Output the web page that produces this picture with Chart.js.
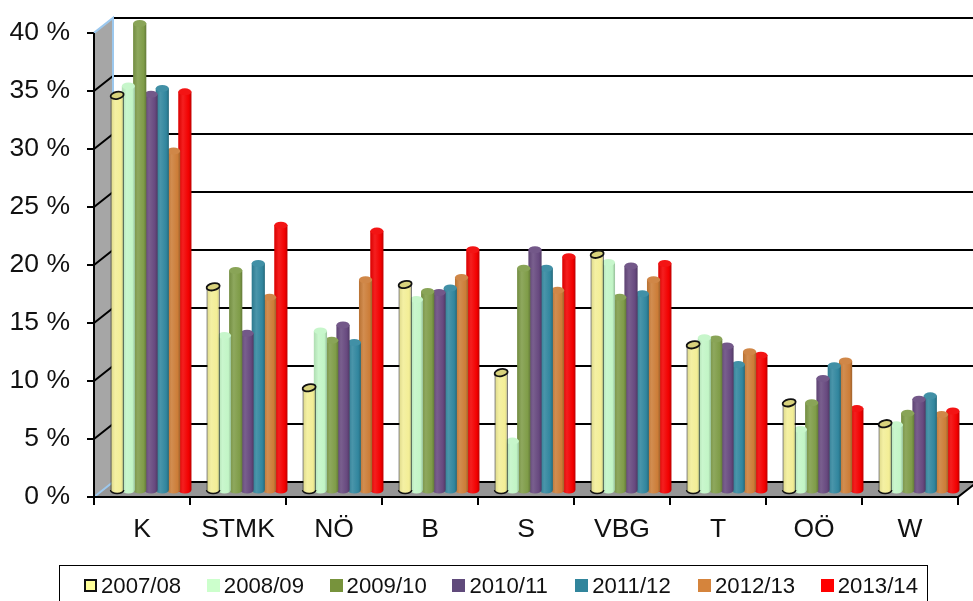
<!DOCTYPE html>
<html>
<head>
<meta charset="utf-8">
<script src="https://cdn.jsdelivr.net/npm/chart.js@4"></script>
<style>
  html, body { margin: 0; padding: 0; background: #fff; overflow: hidden; }
  #wrap { position: relative; width: 973px; height: 601px; overflow: hidden; filter: blur(0.45px); }
  #legend {
    position: absolute; left: 59px; top: 565px; width: 869px; height: 60px; box-sizing: border-box;
    border: 1.5px solid #000; padding: 7px 0 0 24px; display: flex;
    font: 22.2px "Liberation Sans", Arial, sans-serif; color: #111;
  }
  #legend .item { width: 122.8px; flex: none; display: flex; align-items: center; height: 25px; white-space: nowrap; }
  #legend .swatch { width: 13px; height: 13px; margin-right: 4px; box-sizing: border-box; flex: none; }
</style>
</head>
<body>
<div id="wrap">
  <canvas id="chart" width="973" height="601"></canvas>
  <div id="legend"></div>
</div>
<script>
const categories = ['K', 'STMK', 'NÖ', 'B', 'S', 'VBG', 'T', 'OÖ', 'W'];
const seriesLabels = ['2007/08', '2008/09', '2009/10', '2010/11', '2011/12', '2012/13', '2013/14'];

const values0708 = [34.1, 17.6, 8.9, 17.8, 10.2, 20.4, 12.6, 7.6, 5.8];
const values0809 = [34.9, 13.4, 13.8, 16.5, 4.3, 19.7, 13.2, 5.3, 5.7];
const values0910 = [40.3, 19.0, 13.0, 17.2, 19.2, 16.7, 13.1, 7.6, 6.7];
const values1011 = [34.2, 13.6, 14.3, 17.1, 20.8, 19.4, 12.5, 9.7, 7.9];
const values1112 = [34.7, 19.6, 12.8, 17.5, 19.2, 17.0, 10.9, 10.8, 8.2];
const values1213 = [29.3, 16.7, 18.2, 18.4, 17.3, 18.2, 12.0, 11.2, 6.6];
const values1314 = [34.4, 22.9, 22.4, 20.8, 20.2, 19.6, 11.7, 7.1, 6.9];
const seriesValues = [values0708, values0809, values0910, values1011, values1112, values1213, values1314];

const seriesColors = ['#f3ee96', '#c2f5c6', '#7f9c48', '#67497f', '#31869e', '#cc7d38', '#f20000'];
const legendColors = ['#ffff99', '#ccffcc', '#77933c', '#604a7b', '#31859c', '#d5843c', '#ff0000'];

// depth of the fake 3d box, bars stand half way in
const DEPTH_X = 19;
const DEPTH_Y = 15;
const BAR_DX = 9;
const BAR_DY = -6;
const CAP_RY = 3.5;

function shade(hex, f) {
  const n = parseInt(hex.slice(1), 16);
  const ch = [(n >> 16) & 255, (n >> 8) & 255, n & 255];
  const out = ch.map(c => Math.round(f < 1 ? c * f : c + (255 - c) * (f - 1)));
  return 'rgb(' + out.join(',') + ')';
}

function barGradient(ctx, x, width, color) {
  const g = ctx.createLinearGradient(x - width / 2, 0, x + width / 2, 0);
  g.addColorStop(0, shade(color, 0.9));
  g.addColorStop(0.35, shade(color, 1.12));
  g.addColorStop(0.8, color);
  g.addColorStop(1, shade(color, 0.78));
  return g;
}

const box3dPlugin = {
  id: 'box3d',
  afterDatasetsUpdate(chart) {
    chart.data.datasets.forEach((ds, i) => {
      chart.getDatasetMeta(i).data.forEach(bar => {
        bar.options = Object.assign({}, bar.options, {
          backgroundColor: barGradient(chart.ctx, bar.x, bar.width, seriesColors[i])
        });
      });
    });
  },
  beforeDatasetsDraw(chart) {
    const ctx = chart.ctx;
    const y = chart.scales.y;
    const x = chart.scales.x;
    const l = x.left, r = x.right;
    const top = y.getPixelForValue(40), bottom = y.getPixelForValue(0);

    // side wall
    ctx.save();
    ctx.fillStyle = '#a6a6a6';
    ctx.beginPath();
    ctx.moveTo(l, bottom);
    ctx.lineTo(l + DEPTH_X, bottom - DEPTH_Y);
    ctx.lineTo(l + DEPTH_X, top - DEPTH_Y);
    ctx.lineTo(l, top);
    ctx.closePath();
    ctx.fill();

    // floor
    ctx.fillStyle = '#969696';
    ctx.beginPath();
    ctx.moveTo(l, bottom);
    ctx.lineTo(l + DEPTH_X, bottom - DEPTH_Y);
    ctx.lineTo(r + DEPTH_X, bottom - DEPTH_Y);
    ctx.lineTo(r, bottom);
    ctx.closePath();
    ctx.fill();

    // grid lines round the wall and along the back
    ctx.strokeStyle = '#000';
    ctx.lineWidth = 2;
    y.ticks.forEach(t => {
      const py = y.getPixelForValue(t.value);
      ctx.beginPath();
      if (t.value > 0 && t.value < 40) {
        ctx.moveTo(l, py);
        ctx.lineTo(l + DEPTH_X, py - DEPTH_Y);
      } else {
        ctx.moveTo(l + DEPTH_X, py - DEPTH_Y);
      }
      ctx.lineTo(r + DEPTH_X, py - DEPTH_Y);
      ctx.stroke();
    });

    // light blue wall edges
    ctx.strokeStyle = '#9cc8ee';
    ctx.beginPath();
    ctx.moveTo(l, top);
    ctx.lineTo(l + DEPTH_X, top - DEPTH_Y);
    ctx.lineTo(l + DEPTH_X, bottom - DEPTH_Y);
    ctx.lineTo(l, bottom);
    ctx.stroke();

    // axis lines in front
    ctx.strokeStyle = '#000';
    ctx.beginPath();
    ctx.moveTo(l, top);
    ctx.lineTo(l, bottom);
    ctx.lineTo(r, bottom);
    ctx.lineTo(r + DEPTH_X, bottom - DEPTH_Y);
    ctx.stroke();
    ctx.restore();

    // bars are drawn shifted into the box
    ctx.save();
    ctx.translate(BAR_DX, BAR_DY);
  },
  afterDatasetDraw(chart, args) {
    const ctx = chart.ctx;
    const i = args.index;
    const color = seriesColors[i];
    args.meta.data.forEach(bar => {
      const rx = bar.width / 2;
      const fill = barGradient(ctx, bar.x, bar.width, color);

      ctx.fillStyle = fill;
      ctx.beginPath();
      ctx.ellipse(bar.x, bar.base, rx, CAP_RY, 0, 0, Math.PI);
      ctx.fill();
      if (i === 0) {
        ctx.strokeStyle = '#111';
        ctx.lineWidth = 1.5;
        ctx.stroke();
      }

      ctx.beginPath();
      if (i === 0) {
        // first series shows its open top, a bit tilted
        ctx.ellipse(bar.x, bar.y, rx, CAP_RY, -0.2, 0, Math.PI * 2);
        ctx.fillStyle = '#d8d27c';
        ctx.fill();
        ctx.strokeStyle = '#111';
        ctx.lineWidth = 1.8;
        ctx.stroke();
      } else {
        ctx.ellipse(bar.x, bar.y, rx, CAP_RY, 0, 0, Math.PI * 2);
        ctx.fillStyle = shade(color, 1.08);
        ctx.fill();
      }
    });
  },
  afterDatasetsDraw(chart) {
    chart.ctx.restore();
  }
};

const datasets = seriesLabels.map((label, i) => ({
  label: label,
  data: seriesValues[i],
  backgroundColor: seriesColors[i],
  borderColor: i === 0 ? '#111' : seriesColors[i],
  borderWidth: i === 0 ? 1 : 0,
  borderSkipped: 'bottom',
  categoryPercentage: 0.823,
  barPercentage: 1.17
}));

new Chart(document.getElementById('chart').getContext('2d'), {
  type: 'bar',
  data: { labels: categories, datasets: datasets },
  plugins: [box3dPlugin],
  options: {
    responsive: false,
    animation: false,
    clip: false,
    layout: {
      autoPadding: false,
      padding: { top: 30, right: 15, bottom: 60, left: 0 }
    },
    plugins: {
      legend: { display: false },
      tooltip: { enabled: false }
    },
    scales: {
      x: {
        afterFit(scale) { scale.height = 44; },
        grid: { drawOnChartArea: false, drawTicks: true, tickLength: 8, color: '#000', lineWidth: 2 },
        border: { display: false },
        ticks: {
          padding: 9,
          color: '#111',
          maxRotation: 0,
          font: { family: '"Liberation Sans", Arial, sans-serif', size: 26.5 }
        }
      },
      y: {
        min: 0,
        max: 40,
        afterFit(scale) { scale.width = 94; },
        grid: { drawOnChartArea: false, drawTicks: true, tickLength: 7, color: '#000', lineWidth: 2 },
        border: { display: false },
        ticks: {
          stepSize: 5,
          padding: 17,
          color: '#111',
          font: { family: '"Liberation Sans", Arial, sans-serif', size: 26.5 },
          callback: v => v + ' %'
        }
      }
    }
  }
});

// legend as html, the box runs off the bottom of the picture
const legendEl = document.getElementById('legend');
seriesLabels.forEach((label, i) => {
  const item = document.createElement('div');
  item.className = 'item';
  const swatch = document.createElement('span');
  swatch.className = 'swatch';
  swatch.style.background = legendColors[i];
  if (i === 0) swatch.style.border = '2px solid #111';
  item.appendChild(swatch);
  item.appendChild(document.createTextNode(label));
  legendEl.appendChild(item);
});
</script>
</body>
</html>
